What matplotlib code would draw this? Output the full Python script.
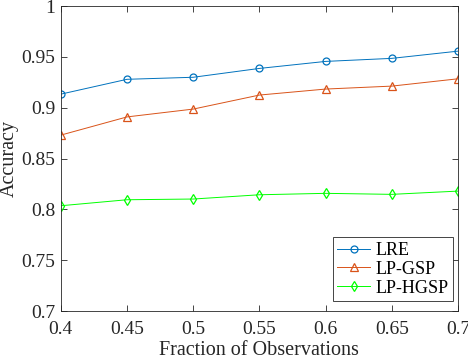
import matplotlib
matplotlib.use("Agg")
import matplotlib.pyplot as plt

x = [0.4, 0.45, 0.5, 0.55, 0.6, 0.65, 0.7]
lre = [0.9134, 0.928, 0.930, 0.9387, 0.9456, 0.9486, 0.9557]
lp_gsp = [0.8731, 0.891, 0.8987, 0.9125, 0.9184, 0.9213, 0.9285]
lp_hgsp = [0.8036, 0.8095, 0.8102, 0.8144, 0.8158, 0.8148, 0.818]
xticks = [0.4, 0.45, 0.5, 0.55, 0.6, 0.65, 0.7]
xticklabels = ["0.4", "0.45", "0.5", "0.55", "0.6", "0.65", "0.7"]
yticks = [0.7, 0.75, 0.8, 0.85, 0.9, 0.95, 1.0]
yticklabels = ["0.7", "0.75", "0.8", "0.85", "0.9", "0.95", "1"]

plt.rcParams['font.family'] = ['Liberation Serif', 'DejaVu Serif']
dark = (0.15, 0.15, 0.15)

fig = plt.figure(figsize=(4.68, 3.6), dpi=100)
ax = fig.add_axes([0.130, 0.136, 0.8486, 0.847])

ax.plot(x, lre, color=(0, 0.447, 0.741), marker='o', markersize=5, markerfacecolor='none',
        linewidth=0.7, markeredgewidth=0.9, label='LRE')
ax.plot(x, lp_gsp, color=(0.85, 0.325, 0.098), marker='^', markersize=5.5, markerfacecolor='none',
        linewidth=0.7, markeredgewidth=0.9, label='LP-GSP')
ax.plot(x, lp_hgsp, color=(0, 1, 0), marker='d', markersize=5.5, markerfacecolor='none',
        linewidth=0.7, markeredgewidth=0.9, label='LP-HGSP')

ax.set_xlim(0.4, 0.7)
ax.set_ylim(0.7, 1.0)
ax.set_xticks(xticks)
ax.set_xticklabels(xticklabels)
ax.set_yticks(yticks)
ax.set_yticklabels(yticklabels)
ax.tick_params(direction='in', top=True, right=True, labelsize=14, colors=dark,
               length=4, width=0.6)
ax.tick_params(axis='x', pad=7)
ax.tick_params(axis='y', pad=4)
for s in ax.spines.values():
    s.set_color(dark)
    s.set_linewidth(0.6)

ax.set_xlabel('Fraction of Observations', fontsize=14.5, color=dark, labelpad=2.5)
ax.set_ylabel('Accuracy', fontsize=14.5, color=dark, labelpad=2)

leg = ax.legend(loc='lower right', fontsize=13, fancybox=False, framealpha=1,
                edgecolor=dark, handlelength=1.8, borderpad=0.25,
                labelspacing=0.1, handletextpad=0.3, borderaxespad=0,
                bbox_to_anchor=(1 - 5 / 397, 10 / 305))
leg.get_frame().set_linewidth(0.6)

fig.savefig('out.png', dpi=100)
